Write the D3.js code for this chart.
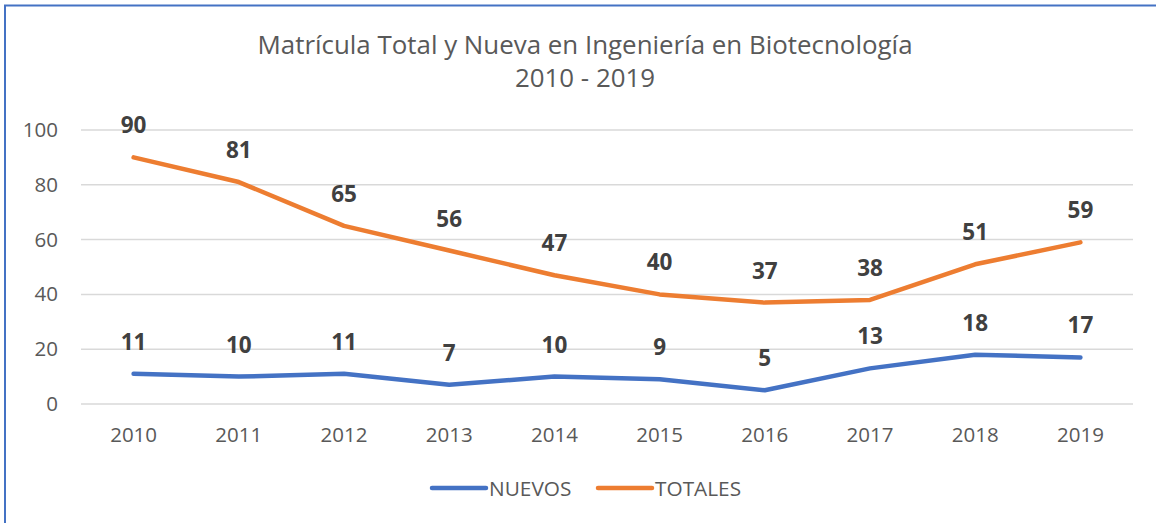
<!DOCTYPE html>
<html>
<head>
<meta charset="utf-8">
<script src="https://cdn.jsdelivr.net/npm/d3@7"></script>
<style>
  body { margin: 0; background: #fff; }
  text { font-family: "Open Sans", sans-serif; }
</style>
</head>
<body>
<div id="chart"></div>
<script>
var years = ["2010", "2011", "2012", "2013", "2014", "2015", "2016", "2017", "2018", "2019"];
var nuevos = [11, 10, 11, 7, 10, 9, 5, 13, 18, 17];
var totales = [90, 81, 65, 56, 47, 40, 37, 38, 51, 59];
var yTicks = [0, 20, 40, 60, 80, 100];
var titleLines = ["Matrícula Total y Nueva en Ingeniería en Biotecnología", "2010 - 2019"];
var seriesNames = ["NUEVOS", "TOTALES"];
var colors = ["#4472C4", "#ED7D31"];

var W = 1156, H = 523;
var margin = { top: 130, right: 23, bottom: 119, left: 81 };
var width = W - margin.left - margin.right,
  height = H - margin.top - margin.bottom;

var svg = d3.select("#chart")
  .append("svg")
  .attr("width", W)
  .attr("height", H);

// chart border (runs off the right and bottom edge)
svg.append("rect")
  .attr("x", 5).attr("y", 5.5)
  .attr("width", W + 10).attr("height", H + 10)
  .attr("fill", "none")
  .attr("stroke", "#4472C4")
  .attr("stroke-width", 2);

// title
svg.selectAll(".title")
  .data(titleLines)
  .enter()
  .append("text")
  .attr("class", "title")
  .attr("x", 585)
  .attr("y", function (d, i) { return 54 + i * 33; })
  .attr("text-anchor", "middle")
  .style("font-size", "25.9px")
  .style("fill", "#595959")
  .text(function (d) { return d; });

var g = svg.append("g")
  .attr("transform", "translate(" + margin.left + "," + margin.top + ")");

var x = d3.scaleBand().domain(years).range([0, width]).padding(0);
var y = d3.scaleLinear().domain([0, 100]).range([height, 0]);

// gridlines
g.selectAll(".grid")
  .data(yTicks)
  .enter()
  .append("line")
  .attr("x1", 0).attr("x2", width)
  .attr("y1", function (d) { return y(d); })
  .attr("y2", function (d) { return y(d); })
  .attr("stroke", "#D9D9D9")
  .attr("stroke-width", 1.5);

// y axis labels
var yAxis = g.append("g")
  .call(d3.axisLeft(y).tickValues(yTicks).tickSize(0).tickPadding(23));
yAxis.select(".domain").remove();
yAxis.selectAll("text")
  .style("font-size", "20.5px")
  .style("fill", "#595959")
  .style("font-family", "'Open Sans', sans-serif");

// x axis labels
var xAxis = g.append("g")
  .attr("transform", "translate(0," + height + ")")
  .call(d3.axisBottom(x).tickSize(0).tickPadding(23));
xAxis.select(".domain").remove();
xAxis.selectAll("text")
  .style("font-size", "20.5px")
  .style("fill", "#595959")
  .style("font-family", "'Open Sans', sans-serif");

var line = d3.line()
  .x(function (d, i) { return x(years[i]) + x.bandwidth() / 2; })
  .y(function (d) { return y(d); });

var series = [nuevos, totales];

series.forEach(function (s, k) {
  g.append("path")
    .datum(s)
    .attr("fill", "none")
    .attr("stroke", colors[k])
    .attr("stroke-width", 4.5)
    .attr("stroke-linecap", "round")
    .attr("stroke-linejoin", "round")
    .attr("d", line);

  g.selectAll(".lbl" + k)
    .data(s)
    .enter()
    .append("text")
    .attr("x", function (d, i) { return x(years[i]) + x.bandwidth() / 2; })
    .attr("y", function (d) { return y(d) - 24; })
    .attr("text-anchor", "middle")
    .style("font-size", "22.5px")
    .style("font-weight", "bold")
    .style("fill", "#404040")
    .text(function (d) { return d; });
});

// legend
var legend = svg.append("g").attr("transform", "translate(0,488)");
var legX = [432, 598];
seriesNames.forEach(function (name, k) {
  legend.append("line")
    .attr("x1", legX[k]).attr("x2", legX[k] + 54)
    .attr("y1", 0).attr("y2", 0)
    .attr("stroke", colors[k])
    .attr("stroke-width", 4.5)
    .attr("stroke-linecap", "round");
  legend.append("text")
    .attr("x", legX[k] + 57)
    .attr("y", 7.5)
    .style("font-size", "20.8px")
    .style("fill", "#595959")
    .text(name);
});
</script>
</body>
</html>
